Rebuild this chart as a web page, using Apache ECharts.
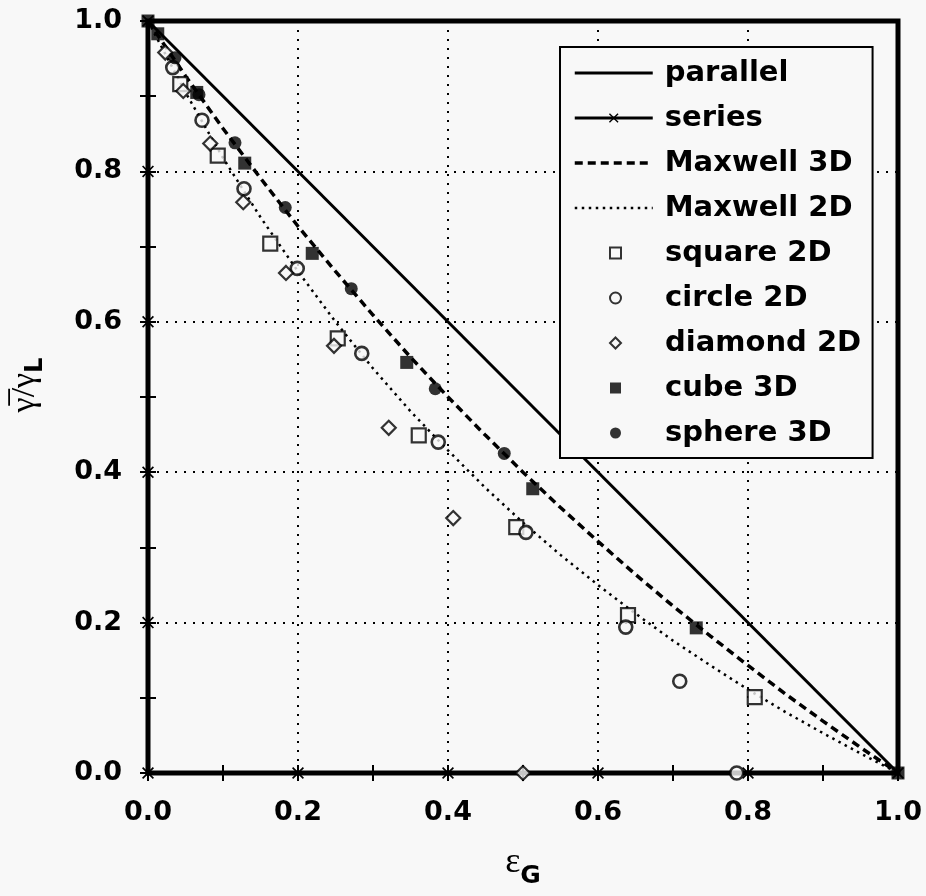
<!DOCTYPE html>
<html>
<head>
<meta charset="utf-8">
<script src="https://cdn.jsdelivr.net/npm/echarts@6/dist/echarts.min.js"></script>
<style>
  html, body { margin: 0; padding: 0; background: #f8f8f8; }
  #chart { width: 926px; height: 896px; }
</style>
</head>
<body>
<div id="chart"></div>
<script>
// Normalised conductivity of a two-phase medium versus gas fraction.

const tickLabels = ['0.0', '0.2', '0.4', '0.6', '0.8', '1.0'];

// Bounds: parallel (upper) and series (lower) mixing rules
const parallelX = [0, 1];
const parallelY = [1, 0];
const seriesBoundX = [0, 0, 0, 0, 0, 0, 0.2, 0.4, 0.6, 0.8, 1.0];
const seriesBoundY = [1.0, 0.8, 0.6, 0.4, 0.2, 0, 0, 0, 0, 0, 0];

// Maxwell curves sampled every 0.05 in gas fraction
const curveEps = [0, 0.05, 0.10, 0.15, 0.20, 0.25, 0.30, 0.35, 0.40, 0.45, 0.50,
                  0.55, 0.60, 0.65, 0.70, 0.75, 0.80, 0.85, 0.90, 0.95, 1.00];
const maxwell3D = [1.000, 0.927, 0.857, 0.791, 0.727, 0.667, 0.609, 0.553, 0.500, 0.449, 0.400,
                   0.353, 0.308, 0.264, 0.222, 0.182, 0.143, 0.105, 0.069, 0.034, 0.000];
const maxwell2D = [1.000, 0.905, 0.818, 0.739, 0.667, 0.600, 0.538, 0.481, 0.429, 0.379, 0.333,
                   0.290, 0.250, 0.212, 0.176, 0.143, 0.111, 0.081, 0.053, 0.026, 0.000];

// Simulated inclusion geometries
const squareX = [0.043, 0.093, 0.163, 0.253, 0.361, 0.491, 0.640, 0.809];
const squareY = [0.916, 0.821, 0.704, 0.578, 0.449, 0.327, 0.210, 0.101];

const circleX = [0.033, 0.072, 0.128, 0.199, 0.285, 0.387, 0.504, 0.637, 0.709, 0.785];
const circleY = [0.938, 0.868, 0.777, 0.671, 0.558, 0.440, 0.320, 0.194, 0.122, 0.000];

const diamondX = [0.023, 0.047, 0.083, 0.127, 0.184, 0.248, 0.321, 0.407, 0.500];
const diamondY = [0.958, 0.907, 0.837, 0.759, 0.665, 0.568, 0.459, 0.339, 0.000];

const cubeX = [0.000, 0.013, 0.065, 0.129, 0.219, 0.345, 0.513, 0.731, 1.000];
const cubeY = [1.000, 0.983, 0.905, 0.811, 0.691, 0.546, 0.378, 0.193, 0.000];

const sphereX = [0.036, 0.068, 0.116, 0.183, 0.271, 0.383, 0.475];
const sphereY = [0.951, 0.902, 0.838, 0.752, 0.644, 0.511, 0.425];

const lineNames = ['parallel', 'series', 'Maxwell 3D', 'Maxwell 2D'];
const markerNames = ['square 2D', 'circle 2D', 'diamond 2D', 'cube 3D', 'sphere 3D'];

const pairs = (xs, ys) => xs.map((x, i) => [x, ys[i]]);

const BG = '#f8f8f8';
const FONT = 'DejaVu Sans';
const CROSS = 'path://M0,1L1,0L5,4L9,0L10,1L6,5L10,9L9,10L5,6L1,10L0,9L4,5Z';
const HIDDEN = { color: 'rgba(0,0,0,0)', borderColor: 'rgba(0,0,0,0)', borderWidth: 0 };

const tickStyle = {
  axisTick: { show: true, inside: true, length: 8, lineStyle: { color: '#000', width: 2 } },
  minorTick: { show: true, splitNumber: 2, length: 8, lineStyle: { color: '#000', width: 2 } }
};

const gridLine = { show: true, lineStyle: { color: '#000', width: 2, type: [2, 7] } };

const labelStyle = {
  color: '#000', fontFamily: FONT, fontWeight: 'bold', fontSize: 27, margin: 26,
  formatter: v => tickLabels[Math.round(v / 0.2)]
};

const legendText = { color: '#000', fontFamily: FONT, fontWeight: 'bold', fontSize: 29, lineHeight: 30 };

const chart = echarts.init(document.getElementById('chart'), null, { renderer: 'canvas' });

chart.setOption({
  backgroundColor: BG,
  animation: false,
  grid: {
    left: 148, right: 28, top: 21, bottom: 123,
    show: true, borderColor: '#000', borderWidth: 5, backgroundColor: 'transparent'
  },
  legend: [
    {
      // framed key: line samples, box extended down to hold the marker rows
      orient: 'vertical',
      left: 560, top: 47,
      padding: [11, 20, 235, 13],
      backgroundColor: BG,
      borderColor: '#000', borderWidth: 2,
      itemWidth: 78, itemHeight: 12, itemGap: 15,
      textStyle: { ...legendText, padding: [0, 0, 0, 7] },
      data: [
        { name: lineNames[0], itemStyle: HIDDEN, lineStyle: { width: 3 } },
        { name: lineNames[1], lineStyle: { width: 3 } },
        { name: lineNames[2], itemStyle: HIDDEN, lineStyle: { width: 3.5 } },
        { name: lineNames[3], itemStyle: HIDDEN, lineStyle: { width: 2.5 } }
      ]
    },
    {
      // marker rows inside the same frame
      orient: 'vertical',
      left: 609, top: 238, z: 5,
      padding: 0,
      itemWidth: 11, itemHeight: 11, itemGap: 15,
      textStyle: { ...legendText, padding: [0, 0, 0, 39] },
      data: markerNames
    }
  ],
  xAxis: [
    {
      type: 'value', min: 0, max: 1, interval: 0.2, position: 'bottom',
      axisLine: { show: false },
      ...tickStyle,
      splitLine: gridLine,
      axisLabel: labelStyle,
      name: '{e|ε}{s|G}',
      nameLocation: 'middle', nameGap: 72,
      nameTextStyle: {
        rich: {
          e: { fontFamily: 'Liberation Serif', fontSize: 36, color: '#000', lineHeight: 44, verticalAlign: 'top' },
          s: { fontFamily: FONT, fontWeight: 'bold', fontSize: 25, color: '#000', lineHeight: 44, verticalAlign: 'bottom' }
        }
      }
    },
    {
      type: 'value', min: 0, max: 1, interval: 0.2, position: 'top',
      axisLine: { show: false }, ...tickStyle,
      splitLine: { show: false }, axisLabel: { show: false }
    }
  ],
  yAxis: [
    {
      type: 'value', min: 0, max: 1, interval: 0.2, position: 'left',
      axisLine: { show: false },
      ...tickStyle,
      splitLine: gridLine,
      axisLabel: labelStyle,
      name: '{g|γ̅/γ}{s|L}',
      nameLocation: 'middle', nameGap: 100, nameRotate: 90,
      nameTextStyle: {
        padding: [0, 0, 0, 24],
        rich: {
          g: { fontFamily: 'Liberation Serif', fontSize: 34, color: '#000', lineHeight: 40, verticalAlign: 'top' },
          s: { fontFamily: FONT, fontWeight: 'bold', fontSize: 24, color: '#000', lineHeight: 40, verticalAlign: 'bottom' }
        }
      }
    },
    {
      type: 'value', min: 0, max: 1, interval: 0.2, position: 'right',
      axisLine: { show: false }, ...tickStyle,
      splitLine: { show: false }, axisLabel: { show: false }
    }
  ],
  series: [
    {
      name: 'parallel', type: 'line', data: pairs(parallelX, parallelY),
      symbol: 'none', lineStyle: { color: '#000', width: 3 }, itemStyle: { color: '#000' }, z: 3
    },
    {
      name: 'series', type: 'line', data: pairs(seriesBoundX, seriesBoundY),
      symbol: CROSS, symbolSize: 12, showSymbol: true,
      lineStyle: { color: '#000', width: 3 }, itemStyle: { color: '#000' }, z: 3
    },
    {
      name: 'Maxwell 3D', type: 'line', data: pairs(curveEps, maxwell3D),
      symbol: 'none', lineStyle: { color: '#000', width: 3.5, type: [8, 5] }, itemStyle: { color: '#000' }, z: 3
    },
    {
      name: 'Maxwell 2D', type: 'line', data: pairs(curveEps, maxwell2D),
      symbol: 'none', lineStyle: { color: '#000', width: 2.5, type: [2.5, 4.5] }, itemStyle: { color: '#000' }, z: 3
    },
    {
      name: 'square 2D', type: 'scatter', data: pairs(squareX, squareY),
      symbol: 'rect', symbolSize: 14,
      itemStyle: { color: BG, borderColor: '#000', borderWidth: 2.2 }, z: 4
    },
    {
      name: 'circle 2D', type: 'scatter', data: pairs(circleX, circleY),
      symbol: 'circle', symbolSize: 13,
      itemStyle: { color: BG, borderColor: '#000', borderWidth: 2.6 }, z: 4
    },
    {
      name: 'diamond 2D', type: 'scatter', data: pairs(diamondX, diamondY),
      symbol: 'diamond', symbolSize: [14, 14],
      itemStyle: { color: BG, borderColor: '#000', borderWidth: 2.2 }, z: 4
    },
    {
      name: 'cube 3D', type: 'scatter', data: pairs(cubeX, cubeY),
      symbol: 'rect', symbolSize: 13,
      itemStyle: { color: '#000' }, z: 4
    },
    {
      name: 'sphere 3D', type: 'scatter', data: pairs(sphereX, sphereY),
      symbol: 'circle', symbolSize: 13,
      itemStyle: { color: '#000' }, z: 4
    }
  ]
});
</script>
</body>
</html>
